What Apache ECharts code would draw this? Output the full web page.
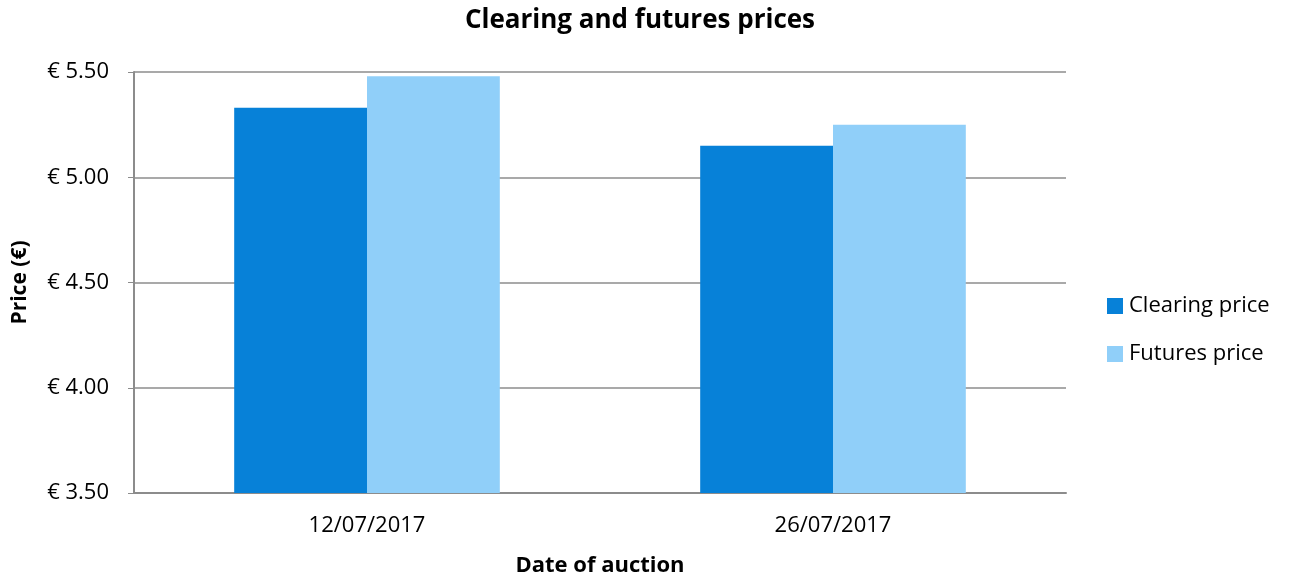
<!DOCTYPE html>
<html>
<head>
<meta charset="utf-8">
<script src="https://cdn.jsdelivr.net/npm/echarts@6/dist/echarts.min.js"></script>
<style>html,body{margin:0;padding:0;background:#fff;}#c{width:1289px;height:580px;}</style>
</head>
<body>
<div id="c"></div>
<script>
const categories = ['12/07/2017', '26/07/2017'];
const clearingPrice = [5.33, 5.15];
const futuresPrice = [5.48, 5.25];
const seriesNames = ['Clearing price', 'Futures price'];

const font = '"Open Sans", "Noto Sans", sans-serif';
const chart = echarts.init(document.getElementById('c'), null, {renderer: 'canvas'});
chart.setOption({
  animation: false,
  backgroundColor: '#fff',
  title: {
    text: 'Clearing and futures prices',
    left: 635, top: 3, textAlign: 'center',
    textStyle: {fontFamily: font, fontSize: 26, fontWeight: 'bold', color: '#000'}
  },
  legend: {
    orient: 'vertical', left: 1102, top: 290, itemGap: 26,
    itemWidth: 16, itemHeight: 16, icon: 'rect',
    textStyle: {fontFamily: font, fontSize: 22, color: '#000', padding: [0,0,0,1]},
    data: seriesNames
  },
  grid: {left: 134, right: 223, top: 72, bottom: 87, containLabel: false, outerBoundsMode: 'none'},
  xAxis: {
    type: 'category', data: categories,
    name: 'Date of auction', nameLocation: 'middle', nameGap: 62,
    nameTextStyle: {fontFamily: font, fontSize: 22, fontWeight: 'bold', color: '#000'},
    axisLine: {show: true, lineStyle: {color: '#8c8c8c', width: 2}},
    axisTick: {show: false},
    axisLabel: {fontFamily: font, fontSize: 22, color: '#000', margin: 22}
  },
  yAxis: {
    type: 'value', min: 3.5, max: 5.5, interval: 0.5,
    name: 'Price (€)', nameLocation: 'middle', nameGap: 103, nameRotate: 90,
    nameTextStyle: {fontFamily: font, fontSize: 21, fontWeight: 'bold', color: '#000'},
    axisLine: {show: true, lineStyle: {color: '#8c8c8c', width: 2}},
    axisTick: {show: true, length: 6, inside: false, lineStyle: {color: '#8c8c8c'}},
    splitLine: {show: true, lineStyle: {color: '#8c8c8c', width: 1.5}},
    axisLabel: {fontFamily: font, fontSize: 22, color: '#000', margin: 25,
      formatter: v => '€ ' + v.toFixed(2)}
  },
  series: [
    {name: seriesNames[0], type: 'bar', data: clearingPrice, barGap: '0%', barCategoryGap: '43%',
     itemStyle: {color: '#0781d8'}},
    {name: seriesNames[1], type: 'bar', data: futuresPrice,
     itemStyle: {color: '#90cff9'}}
  ]
});
</script>
</body>
</html>
